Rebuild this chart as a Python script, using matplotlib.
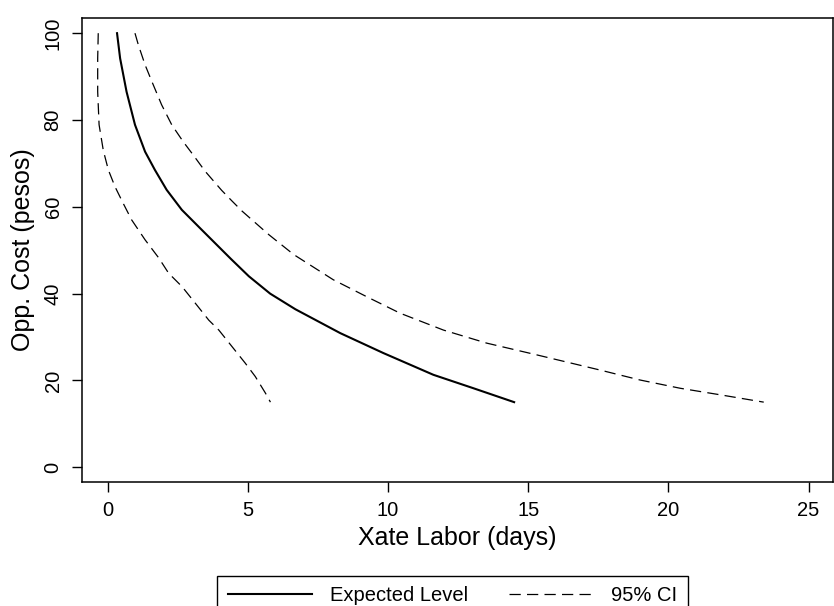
import numpy as np
import matplotlib
matplotlib.use('Agg')
import matplotlib.pyplot as plt

plt.rcParams['font.family'] = ['Liberation Sans', 'DejaVu Sans']

# Expected level
exp_x = [0.34, 0.45, 0.68, 0.98, 1.34, 1.69, 2.11, 2.65, 3.36, 4.4, 5.04, 5.8, 6.7, 8.3,
         9.84, 11.62, 13.05, 14.5]
exp_y = [100, 94.2, 86.5, 78.9, 72.7, 68.5, 63.9, 59.3, 54.7, 48.0, 44.0, 40.0, 36.4, 30.9,
         26.3, 21.3, 18.2, 15.0]

# lower 95% CI
lo_x = [-0.33, -0.35, -0.35, -0.30, -0.15, 0.03, 0.27, 0.56, 0.86, 1.34, 1.83, 2.18,
        2.66, 3.13, 3.61, 3.97, 4.44, 4.91, 5.27, 5.63, 5.81]
lo_y = [100, 94.2, 86.5, 78.9, 73.0, 68.5, 64.6, 60.8, 57.0, 52.4, 48.2, 44.7,
        41.6, 37.8, 33.9, 31.6, 27.8, 24.0, 20.9, 17.1, 15.0]

# upper 95% CI
hi_x = [0.98, 1.10, 1.34, 1.58, 1.93, 2.29, 2.70, 3.05, 3.48, 4.07, 4.43, 4.8, 5.75,
        6.64, 8.05, 9.24, 10.43, 11.98, 13.52, 15.3, 17.56, 18.99, 20.42, 21.84, 23.4]
hi_y = [100, 97.3, 92.7, 88.9, 83.5, 78.9, 75.0, 72.0, 68.2, 63.8, 61.4, 59.0, 53.6,
        49.0, 43.2, 39.3, 35.5, 31.6, 28.6, 25.9, 22.4, 20.1, 18.2, 16.7, 15.0]

xticks = [0, 5, 10, 15, 20, 25]
yticks = [0, 20, 40, 60, 80, 100]

fig = plt.figure(figsize=(8.34, 6.06), dpi=100)
ax = fig.add_axes([0.0983, 0.2046, 0.9005, 0.7657])

ax.plot(exp_x, exp_y, color='black', linewidth=1.5, label='Expected Level')
ax.plot(lo_x, lo_y, color='black', linewidth=0.9, dashes=(9, 5), label='95% CI')
ax.plot(hi_x, hi_y, color='black', linewidth=0.9, dashes=(9, 5))

ax.set_xlim(-0.91, 25.87)
ax.set_ylim(-3.4, 103.5)
ax.set_xticks(xticks)
ax.set_yticks(yticks)
ax.tick_params(length=7, width=1, pad=7, labelsize=14.5, color='black')
plt.setp(ax.get_yticklabels(), rotation=90, va='center')

for s in ax.spines.values():
    s.set_linewidth(1.1)
    s.set_color('black')

ax.set_xlabel('Xate Labor (days)', fontsize=18, labelpad=4)
ax.set_ylabel('Opp. Cost (pesos)', fontsize=18, labelpad=6)

# legend sits below and runs off the bottom edge, like the scan
fig.legend(loc='upper center', bbox_to_anchor=(0.5426, 0.066), ncol=2,
           fontsize=14.5, frameon=True, fancybox=False, edgecolor='black',
           handlelength=4.2, handletextpad=0.9, columnspacing=2.0,
           borderpad=0.5, framealpha=1)

fig.savefig('out.png', dpi=100)
